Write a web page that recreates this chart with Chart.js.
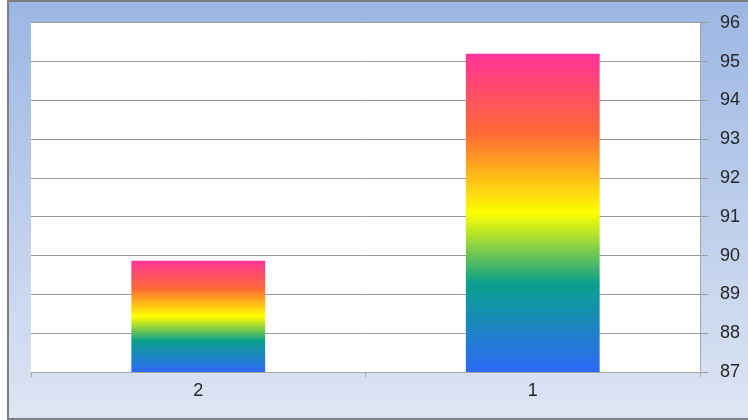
<!DOCTYPE html>
<html>
<head>
<meta charset="utf-8">
<script src="https://cdn.jsdelivr.net/npm/chart.js@4"></script>
<style>
  html, body { margin: 0; padding: 0; background: #ffffff; }
  #wrap { width: 748px; height: 420px; position: relative; }
</style>
</head>
<body>
<div id="wrap"><canvas id="c" width="748" height="420"></canvas></div>
<script>
const categories = ['2', '1'];
const values = [89.87, 95.2];
const yMin = 87;
const yMax = 96;

const rainbowStops = [
  [0.00, '#2d6af7'],
  [0.28, '#0aa08c'],
  [0.50, '#ffff00'],
  [0.75, '#ff6a35'],
  [1.00, '#ff3399']
];

function barFill(ctx) {
  const chart = ctx.chart;
  const yScale = chart.scales && chart.scales.y;
  if (!chart.chartArea || !yScale || ctx.dataIndex === undefined) return '#ff3399';
  const v = ctx.raw;
  const top = yScale.getPixelForValue(v);
  const base = yScale.getPixelForValue(yMin);
  const g = chart.ctx.createLinearGradient(0, base, 0, top);
  rainbowStops.forEach(s => g.addColorStop(s[0], s[1]));
  return g;
}

const framePlugin = {
  id: 'frame',
  beforeDraw(chart) {
    const c = chart.ctx;
    const a = chart.chartArea;
    c.save();
    c.fillStyle = '#7f7f7f';
    c.fillRect(7, 0, 748 - 7, 420);
    const g = c.createLinearGradient(0, 2, 0, 418);
    g.addColorStop(0, '#9cb6e3');
    g.addColorStop(1, '#dde5f3');
    c.fillStyle = g;
    c.fillRect(9, 2, 748 - 9, 416);
    c.fillStyle = '#ffffff';
    c.fillRect(a.left, a.top, a.right - a.left, a.bottom - a.top);
    c.restore();
  }
};

new Chart(document.getElementById('c'), {
  type: 'bar',
  data: {
    labels: categories,
    datasets: [{
      data: values,
      backgroundColor: barFill,
      borderWidth: 0,
      categoryPercentage: 0.4,
      barPercentage: 1.0
    }]
  },
  options: {
    responsive: false,
    animation: false,
    devicePixelRatio: 1,
    layout: { padding: { left: 31, top: 22, right: 0, bottom: 0 } },
    plugins: { legend: { display: false }, tooltip: { enabled: false } },
    scales: {
      x: {
        afterFit(scale) { scale.height = 48; },
        grid: {
          offset: true,
          drawOnChartArea: false,
          drawTicks: true,
          tickLength: 5,
          color: '#a6a6a6'
        },
        border: { display: true, color: '#a6a6a6', width: 1 },
        ticks: {
          padding: 3,
          color: '#262626',
          font: { family: 'Liberation Sans', size: 18 }
        }
      },
      y: {
        position: 'right',
        min: yMin,
        max: yMax,
        afterFit(scale) { scale.width = 48; },
        grid: {
          color: '#9a9a9a',
          drawTicks: true,
          tickLength: 8
        },
        border: { display: true, color: '#a6a6a6', width: 1 },
        ticks: {
          stepSize: 1,
          padding: 12,
          color: '#262626',
          font: { family: 'Liberation Sans', size: 18 }
        }
      }
    }
  },
  plugins: [framePlugin]
});
</script>
</body>
</html>
